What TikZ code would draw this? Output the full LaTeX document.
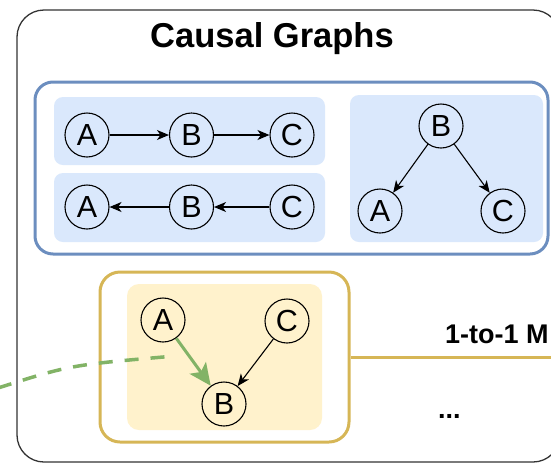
\documentclass[tikz,border=0pt]{standalone}
\usepackage{fontspec}
\setmainfont{Liberation Sans}
\usetikzlibrary{arrows.meta}
\definecolor{bluestroke}{HTML}{6C8EBF}
\definecolor{bluefill}{HTML}{DAE8FC}
\definecolor{yelstroke}{HTML}{D6B656}
\definecolor{yelfill}{HTML}{FFF2CC}
\definecolor{greenline}{HTML}{82B366}
\tikzset{
  outerbox/.style={draw=black!80, line width=1.3pt, rounded corners=27pt, inner sep=0pt},
  bluebox/.style={draw=bluestroke, line width=3pt, rounded corners=18pt, fill=white, inner sep=0pt},
  bluepanel/.style={fill=bluefill, rounded corners=9pt, inner sep=0pt},
  yelbox/.style={draw=yelstroke, line width=3pt, rounded corners=20pt, fill=white, inner sep=0pt},
  yelpanel/.style={fill=yelfill, rounded corners=12pt, inner sep=0pt},
  var/.style={circle, draw=black, line width=1.1pt, minimum size=44pt, inner sep=0pt,
              font=\fontsize{30.5}{36}\selectfont},
  edge/.style={draw=black, line width=1.1pt, -{Stealth[length=12pt,width=10pt,inset=3.5pt]}},
  greenedge/.style={draw=greenline, line width=3pt, -{Stealth[length=22pt,width=20pt,inset=5pt]}},
  greendash/.style={draw=greenline, line width=3.5pt, dash pattern=on 14pt off 12pt},
  yelline/.style={draw=yelstroke, line width=3pt},
  titletext/.style={font=\fontsize{34.5}{41}\selectfont\bfseries, inner sep=0pt, anchor=base},
  labeltext/.style={font=\fontsize{27}{32}\selectfont\bfseries, inner sep=0pt, anchor=base west}
}
\begin{document}
\begin{tikzpicture}[x=1pt,y=-1pt]
\useasboundingbox (0,0) rectangle (551,464);
% outer container
\node[outerbox, minimum width=543pt, minimum height=452pt] (outer) at (288.5,236) {};
\node[titletext] (title) at (272,47) {Causal Graphs};
% blue group
\node[bluebox, minimum width=513pt, minimum height=172pt] (blue) at (291.5,168) {};
\node[bluepanel, minimum width=271pt, minimum height=68pt] (p1) at (189.5,131) {};
\node[bluepanel, minimum width=271pt, minimum height=69pt] (p2) at (189.5,207.5) {};
\node[bluepanel, minimum width=193pt, minimum height=147pt] (p3) at (446.5,168.5) {};
% chain A -> B -> C
\node[var] (a1) at (87,135) {A};
\node[var] (b1) at (191.5,135) {B};
\node[var] (c1) at (292,135) {C};
\draw[edge] (a1) -- (b1);
\draw[edge] (b1) -- (c1);
% chain A <- B <- C
\node[var] (a2) at (87,207) {A};
\node[var] (b2) at (191.5,207) {B};
\node[var] (c2) at (292,207) {C};
\draw[edge] (c2) -- (b2);
\draw[edge] (b2) -- (a2);
% fork
\node[var] (b3) at (441,126) {B};
\node[var] (a3) at (380,211) {A};
\node[var] (c3) at (503,211) {C};
\draw[edge] (b3) -- (a3);
\draw[edge] (b3) -- (c3);
% yellow group
\coordinate (yend) at (560,357);
\node[yelbox, minimum width=249pt, minimum height=170pt] (ybox) at (224.5,357) {};
\draw[yelline] (ybox.east) -- (yend);
\node[yelpanel, minimum width=195pt, minimum height=146pt] (ypanel) at (224.5,357) {};
\node[var] (a4) at (163,320) {A};
\node[var] (c4) at (287,321) {C};
\node[var] (b4) at (224,404) {B};
\draw[greenedge] (a4) -- (b4);
\draw[edge] (c4) -- (b4);
% dashed green connector
\coordinate (d0) at (-2,388);
\coordinate (d1) at (175,356);
\draw[greendash] (d0) .. controls (70,365) .. (d1);
% labels
\node[labeltext] (map) at (445,343) {1-to-1 M};
\node[labeltext] (dots) at (438,418) {...};
\end{tikzpicture}
\end{document}
